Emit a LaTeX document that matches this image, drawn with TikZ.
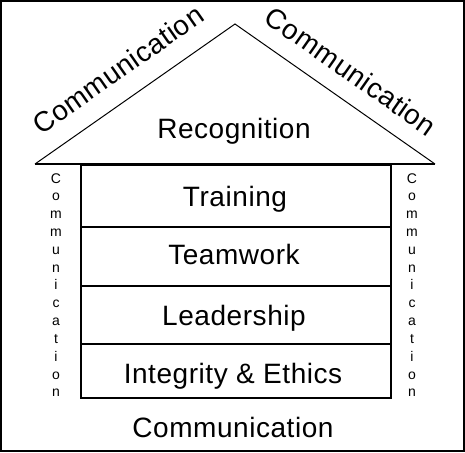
\documentclass[tikz,border=0pt]{standalone}
\usepackage{fontspec}
\setmainfont{Liberation Sans}
\begin{document}
\begin{tikzpicture}[x=1pt,y=-1pt,
  big/.style={font=\fontsize{28}{30}\selectfont\addfontfeature{LetterSpace=2}, inner sep=0pt, anchor=base},
  small/.style={font=\fontsize{14}{16}\selectfont, inner sep=0pt, anchor=base},
  rowbox/.style={draw, line width=1.5pt, minimum width=310pt, minimum height=#1, inner sep=0pt, anchor=north west},
  roofline/.style={line width=1pt},
  frame/.style={line width=2pt}]
\useasboundingbox (0,0) rectangle (465,452);
\draw[frame] (1,1) rectangle (464,451);
% coordinates of the roof
\coordinate (apex) at (235,24);
\coordinate (roofL) at (35,164);
\coordinate (roofR) at (435,164);
% rows
\node[rowbox=62pt] (r1) at (80,164) {};
\node[rowbox=59pt] (r2) at (80,226) {};
\node[rowbox=58pt] (r3) at (80,285) {};
\node[rowbox=54pt] (r4) at (80,343) {};
% roof
\draw[roofline] (roofL) -- (apex) -- (roofR);
\draw[line width=1.5pt] (roofL) -- (roofR);
% texts
\node[big] (rec) at (234,138) {Recognition};
\node[big] (tr) at (235,206) {Training};
\node[big] (tw) at (234,264) {Teamwork};
\node[big] (ld) at (234,325) {Leadership};
\node[big] (ie) at (233,383) {Integrity \& Ethics};
\node[big] (cb) at (233,437) {Communication};
\node[big, rotate=35] (cl) at (123.5,77.6) {Communication};
\node[big, rotate=-35] (cr) at (345.3,79.3) {Communication};
\foreach \ch [count=\i from 0] in {C,o,m,m,u,n,i,c,a,t,i,o,n} {
  \node[small] (vl\i) at (56,183+17.83*\i) {\ch};
  \node[small] (vr\i) at (412,183+17.83*\i) {\ch};
}
\end{tikzpicture}
\end{document}
